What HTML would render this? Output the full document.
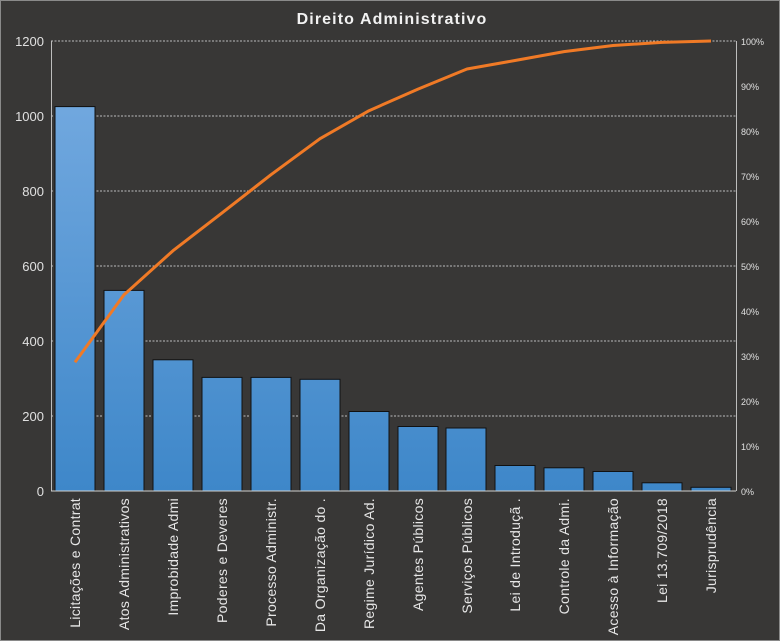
<!DOCTYPE html>
<html><head><meta charset="utf-8"><style>body{margin:0;background:#383736}svg{display:block}</style></head><body>
<svg width="780" height="641" viewBox="0 0 780 641" xmlns="http://www.w3.org/2000/svg" font-family="Liberation Sans, sans-serif">
<defs><linearGradient id="g" gradientUnits="userSpaceOnUse" x1="0" y1="41" x2="0" y2="491"><stop offset="0" stop-color="#79ade2"/><stop offset="1" stop-color="#3e87c9"/></linearGradient></defs>
<rect x="0.5" y="0.5" width="779" height="640" fill="#383736" stroke="#8a8a8a"/>
<text x="392" y="24" text-anchor="middle" fill="#f2f2f2" font-size="16" font-weight="bold" letter-spacing="1.1">Direito  Administrativo</text>
<g stroke="#bdbdbd" stroke-dasharray="2,1.5" stroke-width="1">
<line x1="51" y1="41" x2="736" y2="41"/><line x1="51" y1="116" x2="736" y2="116"/><line x1="51" y1="191" x2="736" y2="191"/><line x1="51" y1="266" x2="736" y2="266"/><line x1="51" y1="341" x2="736" y2="341"/><line x1="51" y1="416" x2="736" y2="416"/></g>
<line x1="51.5" y1="41" x2="51.5" y2="491" stroke="#bdbdbd"/><line x1="736.5" y1="41" x2="736.5" y2="491" stroke="#bdbdbd"/>
<g fill="#e0e0e0" font-size="13" text-anchor="end"><text x="44" y="46">1200</text><text x="44" y="121">1000</text><text x="44" y="196">800</text><text x="44" y="271">600</text><text x="44" y="346">400</text><text x="44" y="421">200</text><text x="44" y="496">0</text></g>
<g fill="#e0e0e0" font-size="9"><text x="741" y="45">100%</text><text x="741" y="90">90%</text><text x="741" y="135">80%</text><text x="741" y="180">70%</text><text x="741" y="225">60%</text><text x="741" y="270">50%</text><text x="741" y="315">40%</text><text x="741" y="360">30%</text><text x="741" y="405">20%</text><text x="741" y="450">10%</text><text x="741" y="495">0%</text></g>
<g fill="url(#g)" stroke="#111" stroke-width="1">
<rect x="55" y="106.6" width="40" height="384.4"/><rect x="104" y="290.4" width="40" height="200.6"/><rect x="153" y="359.8" width="40" height="131.2"/><rect x="202" y="377.4" width="40" height="113.6"/><rect x="251" y="377.4" width="40" height="113.6"/><rect x="300" y="379.3" width="40" height="111.7"/><rect x="349" y="411.5" width="40" height="79.5"/><rect x="398" y="426.5" width="40" height="64.5"/><rect x="446" y="428" width="40" height="63"/><rect x="495" y="465.5" width="40" height="25.5"/><rect x="544" y="467.8" width="40" height="23.2"/><rect x="593" y="471.5" width="40" height="19.5"/><rect x="642" y="482.8" width="40" height="8.2"/><rect x="691" y="487.3" width="40" height="3.7"/></g>
<line x1="51" y1="491" x2="736" y2="491" stroke="#d0d0d0"/>
<polyline fill="none" stroke="#f07a26" stroke-width="3" stroke-linejoin="round" points="75,362.3 124,294.8 173,250.7 222,212.9 271,174.7 320,138.7 369,110.7 418,89.1 467,69 515,60.5 564,51.6 613,45.5 662,42.4 711,41"/>
<g fill="#e6e6e6" font-size="14" letter-spacing="0.3" text-anchor="end">
<text transform="translate(80,498) rotate(-90)">Licitações e Contrat</text>
<text transform="translate(129,498) rotate(-90)">Atos Administrativos</text>
<text transform="translate(178,498) rotate(-90)">Improbidade  Admi</text>
<text transform="translate(227,498) rotate(-90)">Poderes e Deveres</text>
<text transform="translate(276,498) rotate(-90)">Processo Administr.</text>
<text transform="translate(325,498) rotate(-90)">Da Organização do  .</text>
<text transform="translate(374,498) rotate(-90)">Regime Jurídico Ad.</text>
<text transform="translate(423,498) rotate(-90)">Agentes Públicos</text>
<text transform="translate(472,498) rotate(-90)">Serviços Públicos</text>
<text transform="translate(520,498) rotate(-90)">Lei de Introduçã .</text>
<text transform="translate(569,498) rotate(-90)">Controle da Admi.</text>
<text transform="translate(618,498) rotate(-90)">Acesso à Informação</text>
<text transform="translate(667,498) rotate(-90)">Lei 13.709/2018</text>
<text transform="translate(716,498) rotate(-90)">Jurisprudência</text>
</g>
</svg>
</body></html>
